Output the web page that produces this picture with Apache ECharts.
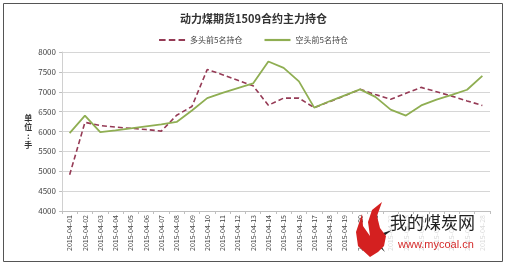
<!DOCTYPE html>
<html><head><meta charset="utf-8">
<script src="https://cdn.jsdelivr.net/npm/echarts@6/dist/echarts.min.js"></script>
<style>html,body{margin:0;padding:0;background:#fff}#c{width:507px;height:267px}</style>
</head><body><div id="c"></div>
<script>
var title = '动力煤期货1509合约主力持仓';
var categories = ['2015-04-01','2015-04-02','2015-04-03','2015-04-04','2015-04-05','2015-04-06','2015-04-07','2015-04-08','2015-04-09','2015-04-10','2015-04-11','2015-04-12','2015-04-13','2015-04-14','2015-04-15','2015-04-16','2015-04-17','2015-04-18','2015-04-19','2015-04-20','2015-04-21','2015-04-22','2015-04-23','2015-04-24','2015-04-25','2015-04-26','2015-04-27','2015-04-28'];
var longName = '多头前5名持仓';
var shortName = '空头前5名持仓';
var longTop5 = [4910,6230,6150,6110,6080,6050,6010,6410,6630,7560,7430,7290,7150,6660,6840,6840,6600,6750,6900,7060,6930,6810,6960,7110,7000,6890,6770,6655];
var shortTop5 = [5960,6400,5985,6030,6080,6130,6180,6240,6530,6840,6970,7090,7210,7760,7600,7260,6600,6760,6910,7060,6870,6550,6400,6655,6800,6920,7050,7400];
var yTicks = [4000,4500,5000,5500,6000,6500,7000,7500,8000];
var unitLabel = '单\n位\n:\n手';

var chart = echarts.init(document.getElementById('c'));
var graphics = [
  {type: 'rect', shape: {x: 3.5, y: 3.5, width: 499, height: 258}, style: {fill: 'none', stroke: '#555', lineWidth: 1}, z: 10},
  {type: 'rect', z: 18, shape: {x: 388, y: 214, width: 112, height: 40}, style: {fill: 'rgba(255,255,255,0.8)'}},
  {type: 'text', x: 390, y: 214, z: 20, style: {text: '我的煤炭网', fontSize: 17, fill: '#222', fontFamily: 'Noto Sans CJK SC'}},
  {type: 'text', x: 398, y: 239, z: 20, style: {text: 'www.mycoal.cn', fontSize: 11, fill: '#d42a2a', fontFamily: 'Liberation Sans'}},
  {type: 'polygon', z: 20, shape: {points: [[370,257],[358,246],[356,232],[362,214],[363,226],[370,236],[368,222],[372,210],[382,202],[377,216],[380,228],[386,236],[384,246],[378,252]]}, style: {fill: '#d42020'}},
  {type: 'polygon', z: 19, shape: {points: [[392,230],[380,234],[376,244],[385,252],[380,244],[384,236]]}, style: {fill: '#222'}}
];
chart.setOption({
  animation: false,
  textStyle: {fontFamily: 'Noto Sans CJK SC, sans-serif'},
  title: {text: title, left: 'center', top: 8,
    textStyle: {fontSize: 11, fontWeight: 'bold', color: '#333', fontFamily: 'Noto Sans CJK SC'}},
  legend: {top: 31, left: 'center', itemWidth: 26, itemHeight: 8, itemGap: 22,
    textStyle: {fontSize: 8, color: '#444'},
    data: [
      {name: longName, icon: 'path://M0,4L6,4L6,6L0,6ZM9,4L15,4L15,6L9,6ZM18,4L24,4L24,6L18,6Z'},
      {name: shortName, icon: 'path://M0,4L24,4L24,6L0,6Z'}
    ]},
  grid: {left: 62, right: 17, top: 52, bottom: 56},
  xAxis: {type: 'category', data: categories, boundaryGap: true,
    axisLine: {lineStyle: {color: '#bfbfbf'}},
    axisTick: {show: true, lineStyle: {color: '#bfbfbf'}, length: 3},
    axisLabel: {rotate: 90, fontSize: 7, color: '#444', interval: 0, margin: 4}},
  yAxis: {type: 'value', min: yTicks[0], max: yTicks[yTicks.length - 1], interval: 500,
    name: unitLabel, nameLocation: 'middle', nameRotate: 0, nameGap: 33,
    nameTextStyle: {fontSize: 8, lineHeight: 9, color: '#333', fontWeight: 'bold', align: 'center', verticalAlign: 'middle'},
    axisLine: {show: true, lineStyle: {color: '#d0d0d0'}},
    axisTick: {show: true, length: 3, lineStyle: {color: '#bfbfbf'}},
    axisLabel: {fontSize: 8, color: '#444', margin: 6, formatter: function (v) { return String(v); }},
    splitLine: {lineStyle: {color: '#d6d6d6'}}},
  series: [
    {name: longName, type: 'line', data: longTop5, symbol: 'none',
     lineStyle: {color: '#953a55', width: 1.6, type: [5, 3]}, itemStyle: {color: '#953a55'}},
    {name: shortName, type: 'line', data: shortTop5, symbol: 'none',
     lineStyle: {color: '#8fae52', width: 1.8}, itemStyle: {color: '#8fae52'}}
  ],
  graphic: {elements: graphics}
});
</script></body></html>
